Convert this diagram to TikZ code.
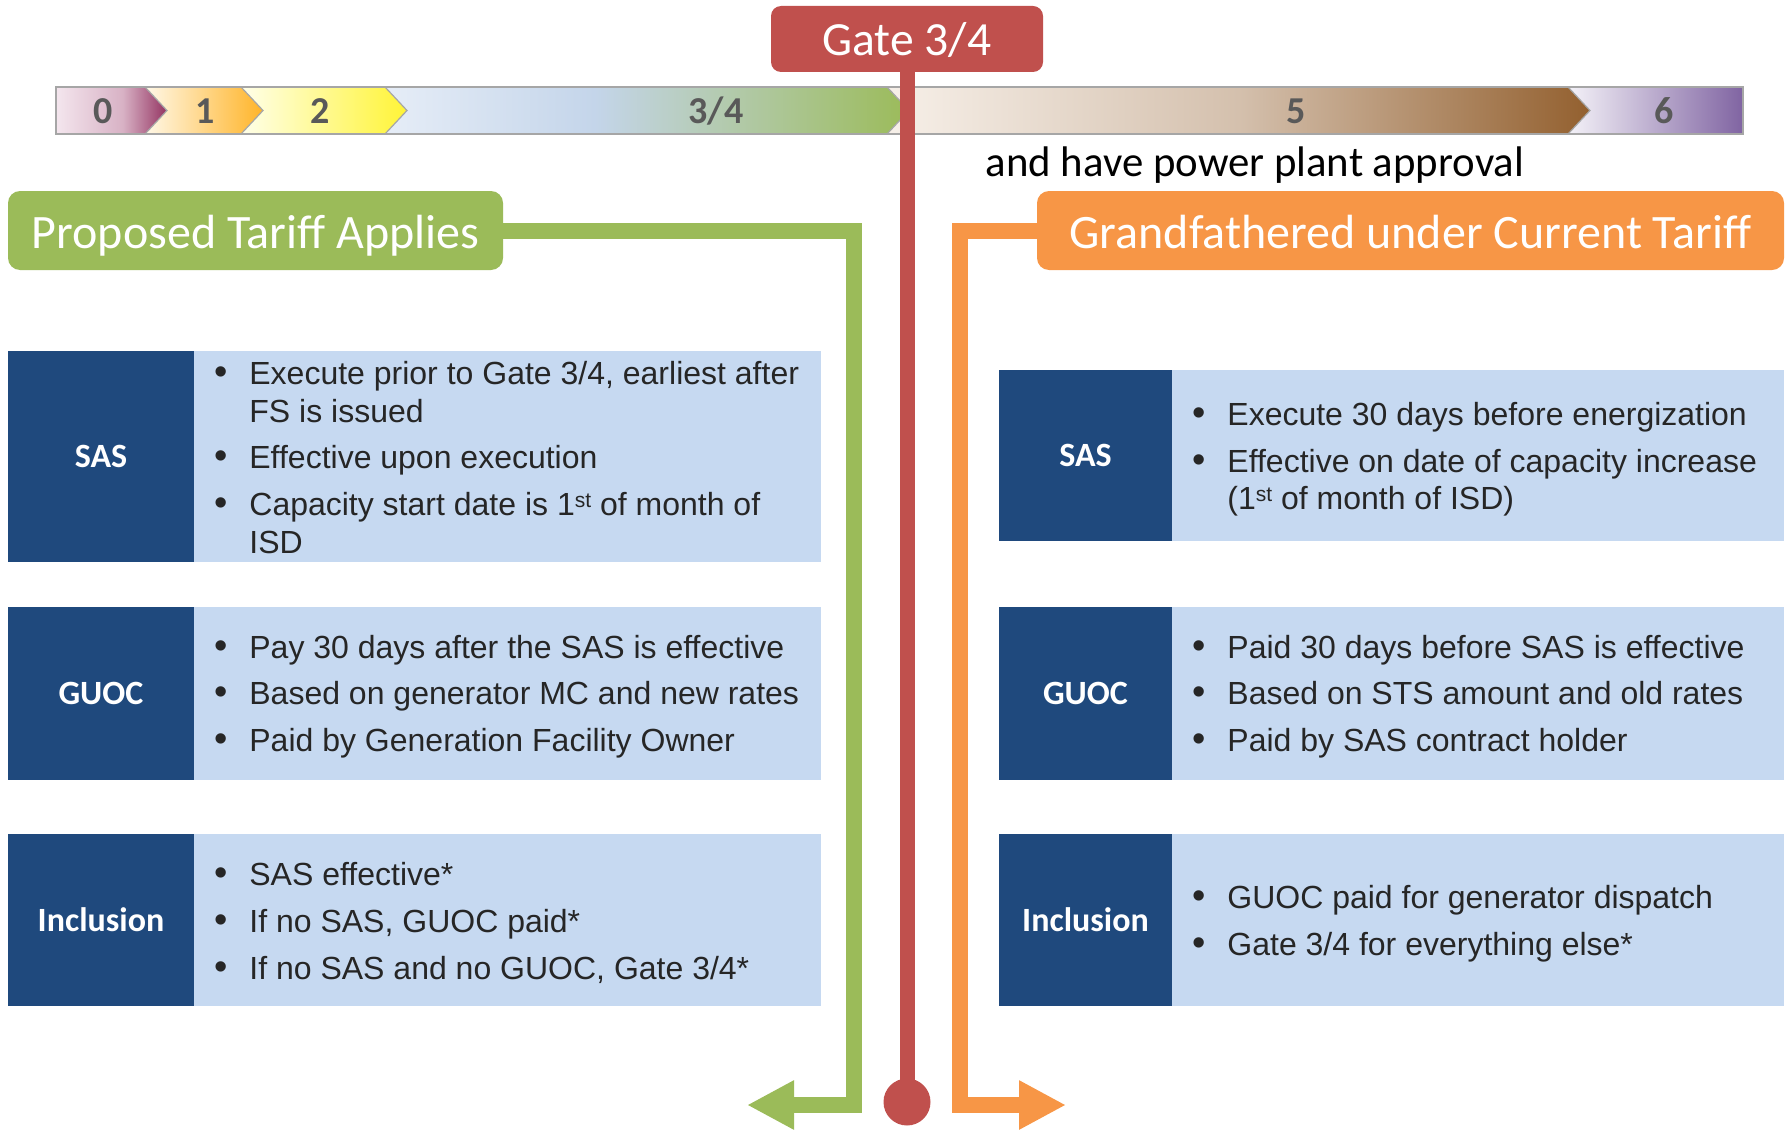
\documentclass[tikz,border=0pt]{standalone}
\usepackage{fontspec}
\setmainfont{Carlito}
\newfontfamily\arialfont{Liberation Sans}
\usetikzlibrary{arrows.meta}

\definecolor{gatered}{HTML}{C0504D}
\definecolor{tgreen}{HTML}{9BBB59}
\definecolor{torange}{HTML}{F79646}
\definecolor{dkblue}{HTML}{1F497D}
\definecolor{ltblue}{HTML}{C6D9F1}
\definecolor{txt}{HTML}{262626}
\definecolor{stagenum}{HTML}{595959}
\definecolor{barline}{HTML}{A6A6A6}

% stage bar colours
\definecolor{zA}{HTML}{F4E6EE}\definecolor{zB}{HTML}{D8B2C5}\definecolor{zC}{HTML}{943462}
\definecolor{oA}{HTML}{FFF8E8}\definecolor{oB}{HTML}{FFB428}
\definecolor{yA}{HTML}{FFFFEA}\definecolor{yB}{HTML}{FFF436}
\definecolor{gA}{HTML}{E6EDF7}\definecolor{gB}{HTML}{C4D5EA}\definecolor{gC}{HTML}{9BBB59}
\definecolor{bA}{HTML}{F7F0E9}\definecolor{bB}{HTML}{D4C0AD}\definecolor{bC}{HTML}{93602F}
\definecolor{pA}{HTML}{F4F2F8}\definecolor{pB}{HTML}{8064A2}

\pgfdeclarehorizontalshading{shzero}{100bp}{color(0bp)=(zA); color(25bp)=(zA); color(55bp)=(zB); color(75bp)=(zC); color(100bp)=(zC)}
\pgfdeclarehorizontalshading{shthree}{100bp}{color(0bp)=(gA); color(25bp)=(gA); color(45bp)=(gB); color(75bp)=(gC); color(100bp)=(gC)}
\pgfdeclarehorizontalshading{shfive}{100bp}{color(0bp)=(bA); color(25bp)=(bA); color(50bp)=(bB); color(75bp)=(bC); color(100bp)=(bC)}

\newcommand\bu{\makebox[17.3pt][l]{\fontsize{19}{19}\selectfont •}}
\newcommand\ind{\hspace*{17.3pt}}
\newcommand\ordst{\raisebox{4.3pt}{\fontsize{10.5}{10.5}\selectfont st}}
\newcommand\lstfont{\arialfont\fontsize{16}{18.8}\selectfont\color{txt}}

\begin{document}
\begin{tikzpicture}[x=0.5pt,y=-0.5pt,
  seg/.style={draw=barline, line width=0.6pt},
  stagelbl/.style={font=\bfseries\fontsize{19}{22}\selectfont, text=stagenum},
  hdr/.style 2 args={rectangle, rounded corners=6pt, fill=#1, text=white,
    font=\fontsize{24}{28}\selectfont, inner sep=0pt,
    text height=18pt, text depth=0.5pt,
    minimum width=#2*0.5pt, minimum height=39.5pt},
  tag/.style 2 args={rectangle, fill=dkblue, text=white, inner sep=0pt,
    font=\bfseries\fontsize{17}{20}\selectfont,
    minimum width=#1*0.5pt, minimum height=#2*0.5pt},
  panel/.style 2 args={rectangle, fill=ltblue, inner sep=0pt,
    minimum width=#1*0.5pt, minimum height=#2*0.5pt},
  lst/.style={anchor=base west, inner sep=0pt, font=\lstfont},
  conn/.style={draw=#1, line width=8pt, line join=miter,
    -{Triangle[length=23.5pt,width=23pt]}},
]
\useasboundingbox (0,0) rectangle (1787,1129);

% ---------- stage bar ----------
\def\T{87}\def\B{134}\def\M{110.5}
\shade[shading=shzero] (56,\T) -- (145,\T) -- (167,\M) -- (145,\B) -- (56,\B) -- cycle;
\shade[left color=oA, right color=oB] (145,\T) -- (241,\T) -- (263,\M) -- (241,\B) -- (145,\B) -- (167,\M) -- cycle;
\shade[left color=yA, right color=yB] (241,\T) -- (385,\T) -- (407,\M) -- (385,\B) -- (241,\B) -- (263,\M) -- cycle;
\shade[shading=shthree] (385,\T) -- (887,\T) -- (909,\M) -- (887,\B) -- (385,\B) -- (407,\M) -- cycle;
\shade[shading=shfive] (887,\T) -- (1568,\T) -- (1590,\M) -- (1568,\B) -- (887,\B) -- (909,\M) -- cycle;
\shade[left color=pA, right color=pB] (1568,\T) -- (1743,\T) -- (1743,\B) -- (1568,\B) -- (1590,\M) -- cycle;
\draw[seg] (56,\T) -- (1743,\T) -- (1743,\B) -- (56,\B) -- cycle;
\foreach \a in {145,241,385,887,1568}
  \draw[seg] (\a,\T) -- (\a+22,\M) -- (\a,\B);

\node[stagelbl] (s0) at (103,111) {0};
\node[stagelbl] (s1) at (205,111) {1};
\node[stagelbl] (s2) at (320,111) {2};
\node[stagelbl] (s34) at (716,111) {3/4};
\node[stagelbl] (s5) at (1296,111) {5};
\node[stagelbl] (s6) at (1664,111) {6};

\node[font=\fontsize{21.4}{25}\selectfont] (ppa) at (1255,165.5) {and have power plant approval};

% ---------- gate marker ----------
\node[circle, fill=gatered, inner sep=0pt, minimum size=23.5pt] (dot) at (907,1102) {};
\node[hdr={gatered}{272}, rounded corners=5pt, minimum height=33pt,
      text height=17.5pt, text depth=1pt,
      font=\fontsize{23.8}{28}\selectfont] (gate) at (907,39) {Gate 3/4};
\draw[gatered, line width=7.5pt] (gate.south) -- (dot.center);

% ---------- tariff headers and their connectors ----------
\node[hdr={tgreen}{495}] (prop) at (255.5,230.5) {Proposed Tariff Applies};
\node[hdr={torange}{747}] (grand) at (1410.5,230.5) {Grandfathered under Current Tariff};

\coordinate (gturn) at (854,1105);
\coordinate (gtip) at (747,1105);
\coordinate (oturn) at (960,1105);
\coordinate (otip) at (1066,1105);
\draw[conn=tgreen] (prop.east) -| (gturn) -- (gtip);
\draw[conn=torange] (grand.west) -| (oturn) -- (otip);

% ---------- proposed tariff rows ----------
\node[tag={186}{211}] (lsas) at (101,456.5) {SAS};
\node[panel={627}{211}] (lsasp) at (507.5,456.5) {};
\node[lst] (lsast) at (214.4,384.4) {\begin{tabular}[t]{@{}l@{}}
\bu Execute prior to Gate 3/4, earliest after\\
\ind FS is issued\\[4.6pt]
\bu Effective upon execution\\[4.6pt]
\bu Capacity start date is 1\ordst{} of month of\\
\ind ISD
\end{tabular}};

\node[tag={186}{173}] (lguoc) at (101,693.5) {GUOC};
\node[panel={627}{173}] (lguocp) at (507.5,693.5) {};
\node[lst] (lguoct) at (214.4,658) {\begin{tabular}[t]{@{}l@{}}
\bu Pay 30 days after the SAS is effective\\[4.6pt]
\bu Based on generator MC and new rates\\[4.6pt]
\bu Paid by Generation Facility Owner
\end{tabular}};

\node[tag={186}{172}] (lincl) at (101,920) {Inclusion};
\node[panel={627}{172}] (linclp) at (507.5,920) {};
\node[lst] (linclt) at (214.4,885.9) {\begin{tabular}[t]{@{}l@{}}
\bu SAS effective*\\[4.6pt]
\bu If no SAS, GUOC paid*\\[4.6pt]
\bu If no SAS and no GUOC, Gate 3/4*
\end{tabular}};

% ---------- grandfathered rows ----------
\node[tag={173}{171}] (rsas) at (1085.5,455.5) {SAS};
\node[panel={612}{171}] (rsasp) at (1478,455.5) {};
\node[lst] (rsast) at (1192.4,425.5) {\begin{tabular}[t]{@{}l@{}}
\bu Execute 30 days before energization\\[4.6pt]
\bu Effective on date of capacity increase\\
\ind (1\ordst{} of month of ISD)
\end{tabular}};

\node[tag={173}{173}] (rguoc) at (1085.5,693.5) {GUOC};
\node[panel={612}{173}] (rguocp) at (1478,693.5) {};
\node[lst] (rguoct) at (1192.4,658) {\begin{tabular}[t]{@{}l@{}}
\bu Paid 30 days before SAS is effective\\[4.6pt]
\bu Based on STS amount and old rates\\[4.6pt]
\bu Paid by SAS contract holder
\end{tabular}};

\node[tag={173}{172}] (rincl) at (1085.5,920) {Inclusion};
\node[panel={612}{172}] (rinclp) at (1478,920) {};
\node[lst] (rinclt) at (1192.4,908.5) {\begin{tabular}[t]{@{}l@{}}
\bu GUOC paid for generator dispatch\\[4.6pt]
\bu Gate 3/4 for everything else*
\end{tabular}};
\end{tikzpicture}
\end{document}
